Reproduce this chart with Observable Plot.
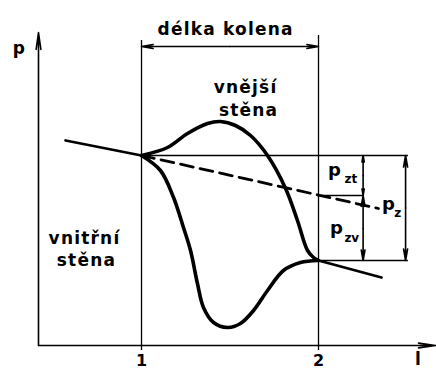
<!DOCTYPE html>
<html><head><meta charset="utf-8">
<script src="https://cdn.jsdelivr.net/npm/d3@7"></script>
<script src="https://cdn.jsdelivr.net/npm/@observablehq/plot@0.6"></script>
<style>
body{margin:0;background:#fff}
svg{font-family:"DejaVu Sans",sans-serif}
g.wide text{letter-spacing:1.2px}
</style>
</head><body><div id="chart"></div>
<script>
// Pressure along a pipe bend (l = position, p = pressure, arbitrary units)
const inletL  = [0.571, 1.0];
const inletP  = [2.05, 1.90];
const outletL = [2.0, 2.356];
const outletP = [0.85, 0.68];
const meanL   = [1.0, 2.339];
const meanP   = [1.90, 1.37];
const outerL = [1.0, 1.147, 1.260, 1.373, 1.446, 1.531, 1.616, 1.712, 1.814, 1.881, 1.938, 1.972, 2.0];
const outerP = [1.90, 1.98, 2.12, 2.22, 2.24, 2.20, 2.10, 1.90, 1.57, 1.25, 0.95, 0.88, 0.85];
const innerL = [1.0, 1.107, 1.181, 1.237, 1.277, 1.316, 1.350, 1.407, 1.486, 1.559, 1.633, 1.712, 1.802, 1.898, 2.0];
const innerP = [1.90, 1.75, 1.48, 1.18, 0.95, 0.62, 0.38, 0.23, 0.18, 0.22, 0.35, 0.55, 0.75, 0.83, 0.85];
const stations = [1, 2];
const stationLabels = ["1", "2"];
const pStart = 1.90, pMeanEnd = 1.50, pEnd = 0.85;

const zip = (a, b) => a.map((v, i) => ({l: v, p: b[i]}));
const black = "#000";
const lineW = 2.8, curveW = 3.6, thinW = 1.3;
const axisL = 0.418;
const dimL1 = 2.252, dimL2 = 2.492, guideEnd = 2.508;

const arrowOpts = {x1: "x1", y1: "y1", x2: "x2", y2: "y2", stroke: black, strokeWidth: 1.6, headAngle: 20, headLength: 11};
const dimArrows = [
  {x1: 1.5, y1: 2.99, x2: 1, y2: 2.99},
  {x1: 1.5, y1: 2.99, x2: 2, y2: 2.99},
  {x1: dimL1, y1: 1.70, x2: dimL1, y2: pStart},
  {x1: dimL1, y1: 1.70, x2: dimL1, y2: pMeanEnd},
  {x1: dimL1, y1: 1.17, x2: dimL1, y2: pMeanEnd},
  {x1: dimL1, y1: 1.17, x2: dimL1, y2: pEnd},
  {x1: dimL2, y1: 1.375, x2: dimL2, y2: pStart},
  {x1: dimL2, y1: 1.375, x2: dimL2, y2: pEnd}
];
const labels = [
  {l: 1.475, p: 3.16, t: "délka kolena"},
  {l: 1.588, p: 2.58, t: "vnější"},
  {l: 1.605, p: 2.35, t: "stěna"},
  {l: 0.678, p: 1.07, t: "vnitřní"},
  {l: 0.689, p: 0.85, t: "stěna"},
  {l: 0.311, p: 2.97, t: "p"},
  {l: 2.565, p: -0.14, t: "l"}
];
const symbols = [
  {l: 2.090, p: 1.75, t: "p"}, {l: 2.102, p: 1.17, t: "p"}, {l: 2.395, p: 1.41, t: "p"}
];
const subs = [
  {l: 2.183, p: 1.66, t: "zt"}, {l: 2.188, p: 1.07, t: "zv"}, {l: 2.448, p: 1.32, t: "z"}
];

const chart = Plot.plot({
  width: 436, height: 370,
  marginLeft: 38, marginRight: 1, marginTop: 30, marginBottom: 25,
  x: {domain: [axisL, 2.661], axis: null},
  y: {domain: [0, 3.15], axis: null},
  marks: [
    // axes
    Plot.arrow([{x1: axisL, y1: 0, x2: 2.661, y2: 0}], {...arrowOpts, headLength: 16, headAngle: 16}),
    Plot.arrow([{x1: axisL, y1: 0, x2: axisL, y2: 3.13}], {...arrowOpts, headLength: 16, headAngle: 16}),
    // station guides
    Plot.ruleX(stations, {x: d => d, y1: -0.05, y2: (d, i) => [3.05, 3.10][i], stroke: black, strokeWidth: thinW}),
    // horizontal guides
    Plot.ruleY([{p: pStart, a: 1, b: guideEnd}, {p: pEnd, a: 2, b: guideEnd}, {p: pMeanEnd, a: 2, b: dimL1}],
      {y: "p", x1: "a", x2: "b", stroke: black, strokeWidth: thinW}),
    // dimension arrows
    Plot.arrow(dimArrows, arrowOpts),
    // pressure lines
    Plot.line(zip(inletL, inletP), {x: "l", y: "p", stroke: black, strokeWidth: lineW}),
    Plot.line(zip(outletL, outletP), {x: "l", y: "p", stroke: black, strokeWidth: lineW}),
    Plot.line(zip(meanL, meanP), {x: "l", y: "p", stroke: black, strokeWidth: lineW, strokeDasharray: "13,7"}),
    Plot.line(zip(outerL, outerP), {x: "l", y: "p", stroke: black, strokeWidth: curveW, curve: "catmull-rom", strokeLinejoin: "round"}),
    Plot.line(zip(innerL, innerP), {x: "l", y: "p", stroke: black, strokeWidth: curveW, curve: "catmull-rom", strokeLinejoin: "round"}),
    // texts
    Plot.text(labels, {x: "l", y: "p", text: "t", fontSize: 17, fontWeight: "bold", fill: black, className: "wide"}),
    Plot.text(stations, {x: d => d, y: -0.155, text: (d, i) => stationLabels[i], fontSize: 16, fontWeight: "bold", fill: black}),
    Plot.text(symbols, {x: "l", y: "p", text: "t", fontSize: 18, fontWeight: "bold", fill: black}),
    Plot.text(subs, {x: "l", y: "p", text: "t", fontSize: 12, fontWeight: "bold", fill: black})
  ]
});
document.getElementById("chart").append(chart);
</script>
</body></html>
